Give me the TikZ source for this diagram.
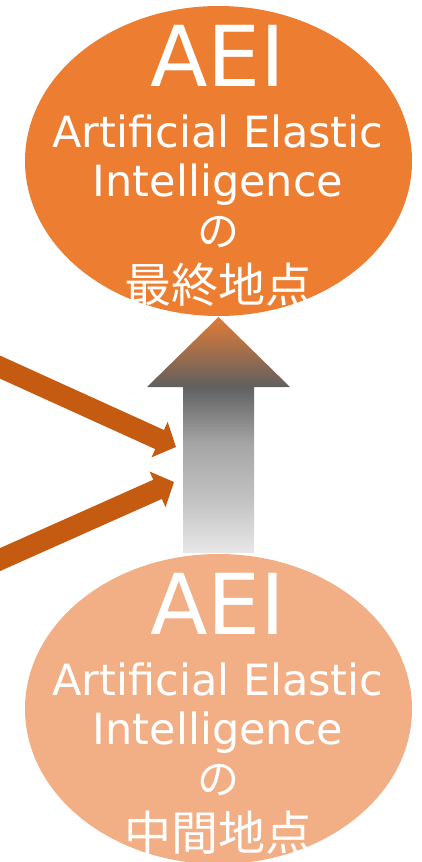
\documentclass[tikz,border=0pt]{standalone}
\usepackage{fontspec}
\newfontfamily\latinf{DejaVu Sans}
\newfontfamily\cjkf{Noto Sans CJK JP}
\usetikzlibrary{shapes.geometric,arrows.meta}
\definecolor{topOrange}{HTML}{ED7D31}
\definecolor{lowOrange}{HTML}{F2AE84}
\definecolor{darkOrange}{HTML}{C55A11}
\definecolor{tipOrange}{HTML}{E27B37}
\definecolor{arrDark}{HTML}{606060}
\definecolor{arrMid}{HTML}{A5A5A5}
\definecolor{arrMid2}{HTML}{C3C3C3}
\definecolor{arrLight}{HTML}{E8E8E8}
\pgfdeclareverticalshading{grayarrow}{100bp}{%
  color(0bp)=(arrLight); color(25bp)=(arrLight); color(36bp)=(arrMid2);
  color(48.3bp)=(arrMid); color(60.2bp)=(arrDark); color(75bp)=(tipOrange);
  color(100bp)=(tipOrange)}
\tikzset{
  blob/.style={ellipse, inner sep=0pt, minimum width=387pt, minimum height=310pt},
  bigtxt/.style={anchor=base, text=white, inner sep=0pt, font=\latinf\fontsize{84}{84}\selectfont},
  midtxt/.style={anchor=base, text=white, inner sep=0pt, font=\latinf\fontsize{43}{43}\selectfont},
  notxt/.style={anchor=base, text=white, inner sep=0pt, font=\cjkf\fontsize{42}{42}\selectfont},
  jptxt/.style={anchor=base, text=white, inner sep=0pt, font=\cjkf\fontsize{47}{47}\selectfont},
  feed/.style={draw=darkOrange, line width=21pt, -{Triangle[length=18pt,width=38pt]}}
}
\begin{document}
\begin{tikzpicture}[x=1pt,y=-1pt]
\useasboundingbox (0,0) rectangle (422,862);
\clip (0,0) rectangle (422,862);
% ellipses
\node[blob, fill=topOrange] (top) at (218.5,161) {};
\node[blob, fill=lowOrange] (low) at (218.5,709) {};
% texts top
\node[bigtxt] (t1) at (218,86) {AEI};
\node[midtxt] (t2) at (218,147) {Artificial Elastic};
\node[midtxt] (t3) at (218,196) {Intelligence};
\node[notxt] (t4) at (218,246) {の};
\node[jptxt] (t5) at (218,302) {最終地点};
% texts bottom
\node[bigtxt] (b1) at (218,634) {AEI};
\node[midtxt] (b2) at (218,695) {Artificial Elastic};
\node[midtxt] (b3) at (218,744) {Intelligence};
\node[notxt] (b4) at (218,794) {の};
\node[jptxt] (b5) at (218,850) {中間地点};
% gray block arrow
\coordinate (gbot) at (218.5,553);
\coordinate (gtip) at (218.5,317);
\shade[shading=grayarrow] (183,553) -- (183,387) -- (147,387) -- (gtip) -- (290,387) -- (254,387) -- (254,553) -- cycle;
% orange arrows
\coordinate (s1) at (-20,358);
\coordinate (e1) at (176,447);
\coordinate (s2) at (-20,568.5);
\coordinate (e2) at (174,482);
\draw[feed] (s1) -- (e1);
\draw[feed] (s2) -- (e2);
\end{tikzpicture}
\end{document}
